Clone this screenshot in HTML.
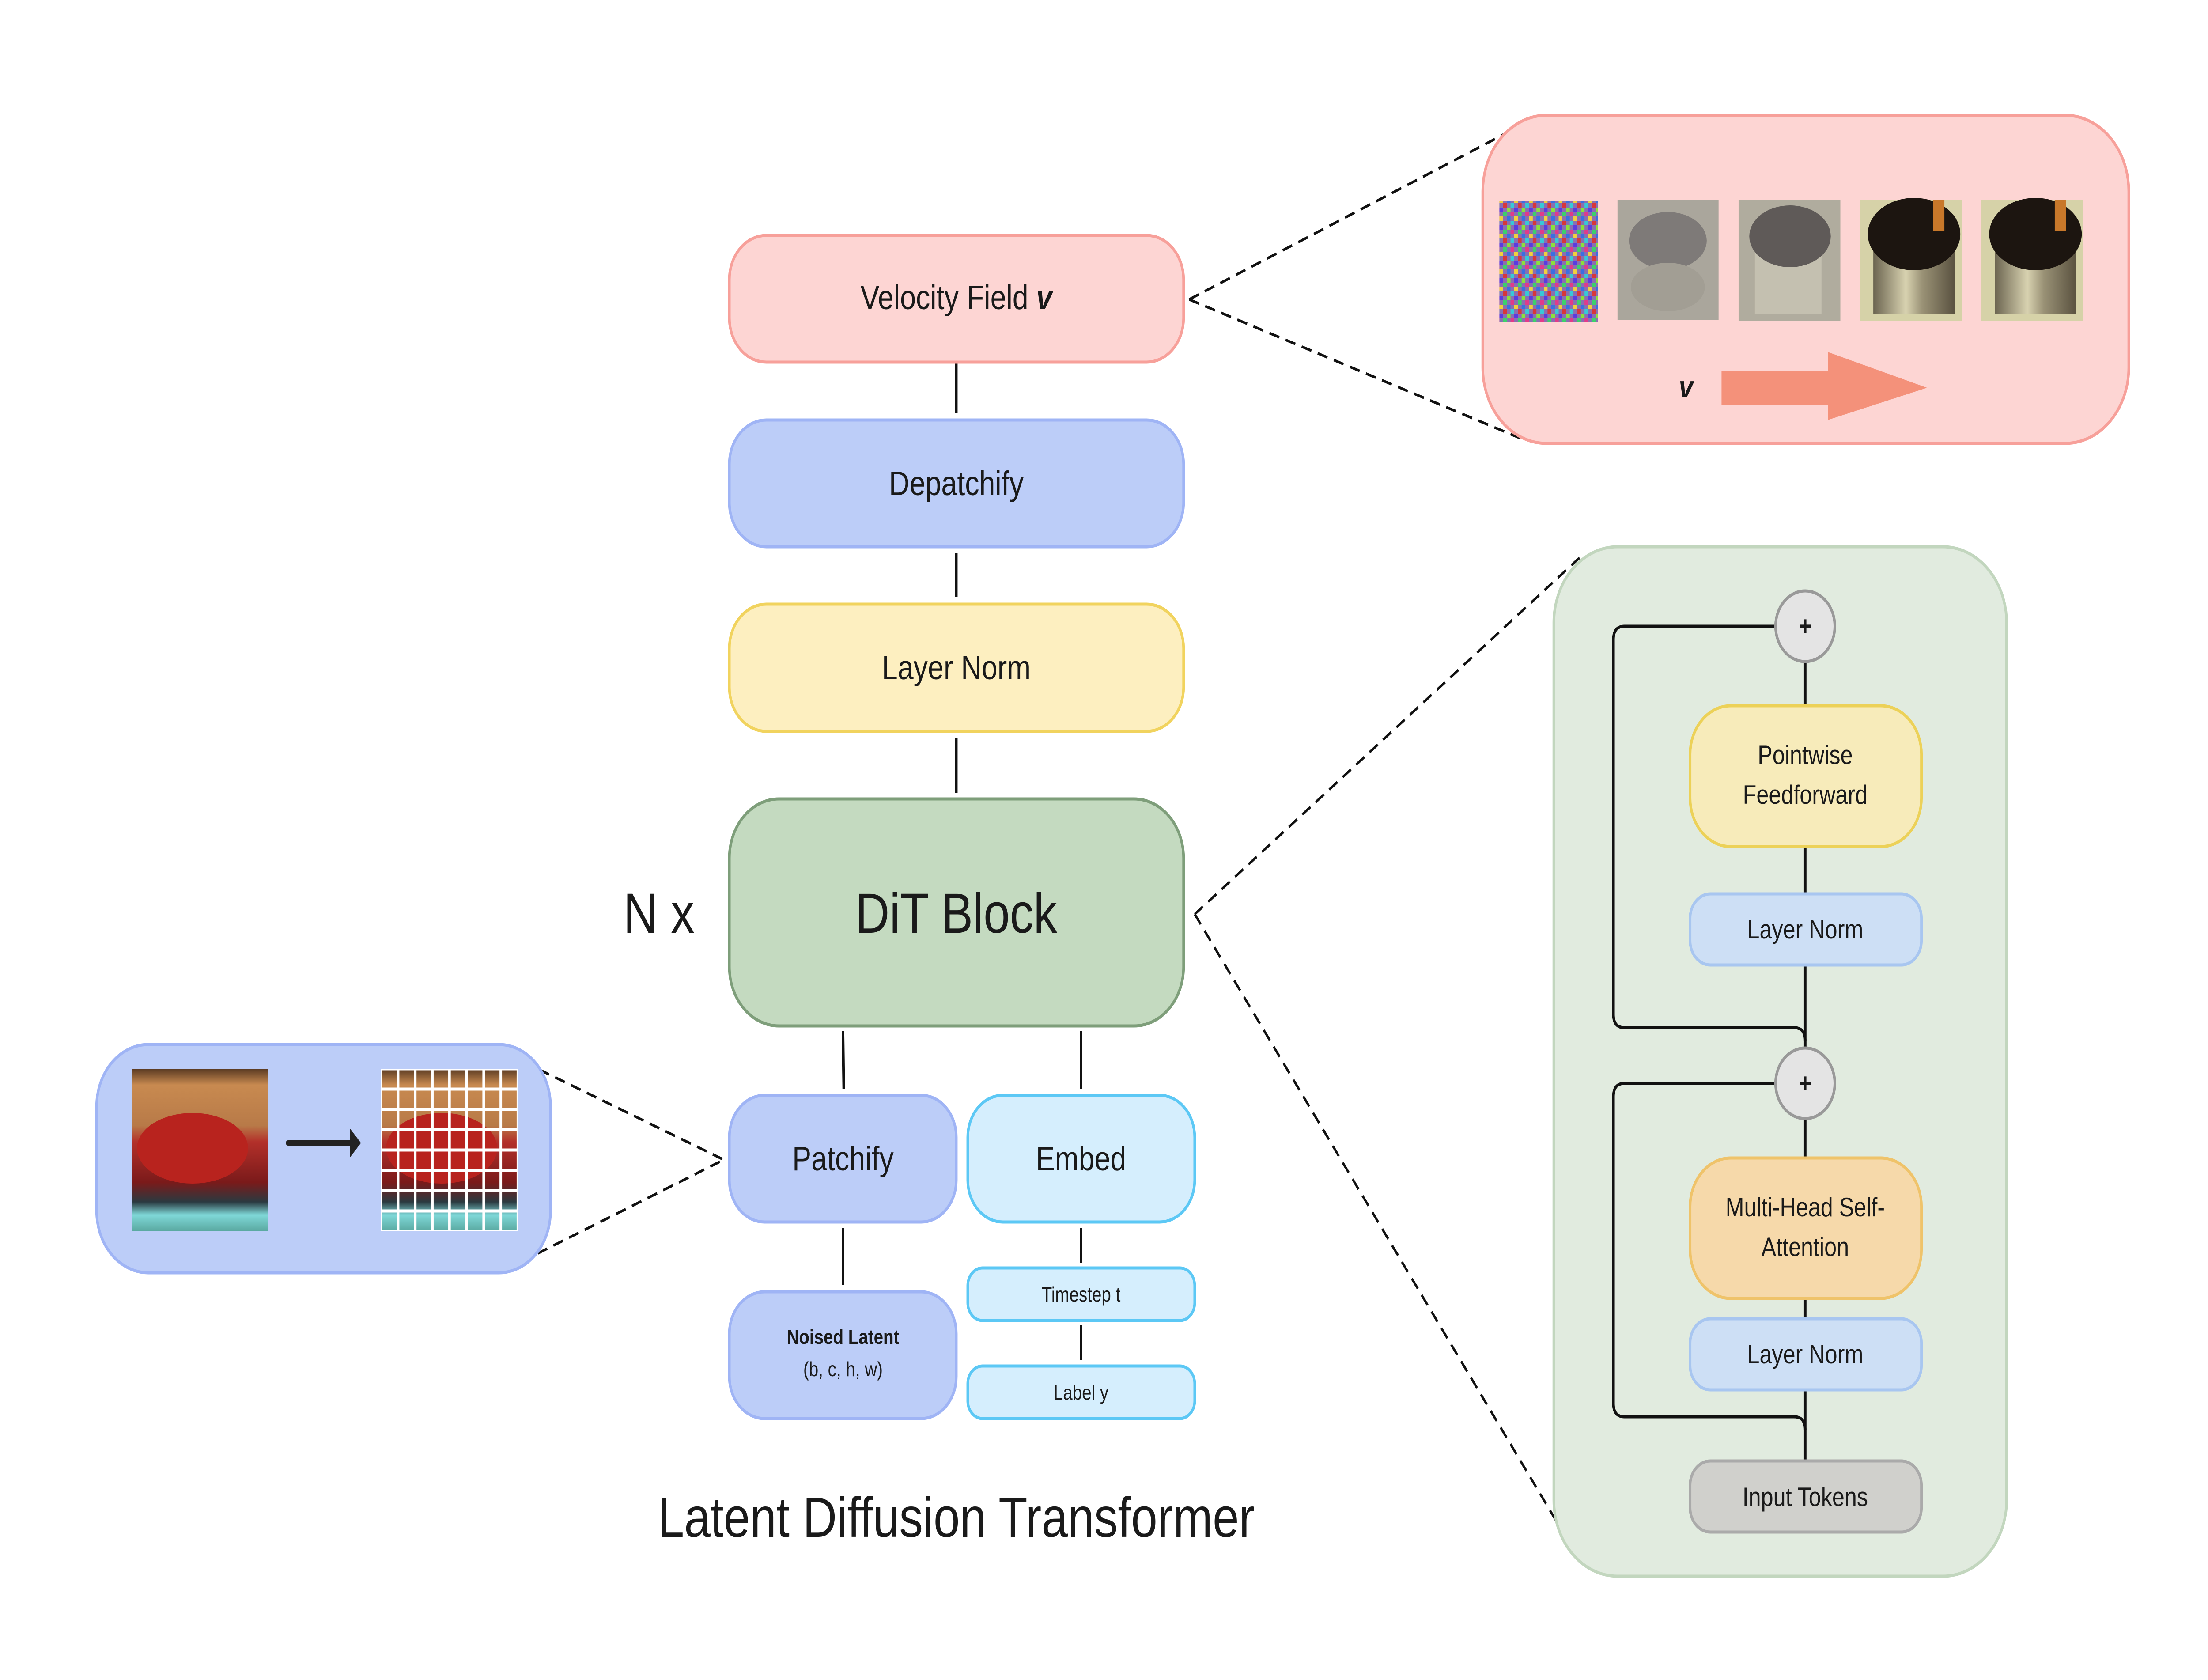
<!DOCTYPE html>
<html><head><meta charset="utf-8"><style>html,body{margin:0;padding:0;background:#fff;width:100%;height:100%;overflow:hidden}svg{display:block;width:100vw;height:100vh}text{font-family:"Liberation Sans",sans-serif;fill:#1a1a1a}</style></head>
<body>
<svg viewBox="0 0 5964 3804" preserveAspectRatio="none" xmlns="http://www.w3.org/2000/svg">
<defs>
<pattern id="noise" width="40" height="40" patternUnits="userSpaceOnUse">
<rect width="40" height="40" fill="#8a6fb0"/>
<rect x="0" y="0" width="10" height="10" fill="#e23a8a"/><rect x="20" y="0" width="10" height="10" fill="#3bd16b"/><rect x="10" y="10" width="10" height="10" fill="#f2d13a"/><rect x="30" y="10" width="10" height="10" fill="#3a6fe2"/><rect x="0" y="20" width="10" height="10" fill="#36c9d8"/><rect x="20" y="20" width="10" height="10" fill="#d8363a"/><rect x="10" y="30" width="10" height="10" fill="#5a3ae2"/><rect x="30" y="30" width="10" height="10" fill="#8ae23a"/>
</pattern>
<pattern id="grid" x="1029" y="2420" width="46.25" height="46" patternUnits="userSpaceOnUse"><rect width="46.25" height="46" fill="none" stroke="#fff" stroke-width="7"/></pattern>
<linearGradient id="steel" x1="0" y1="0" x2="1" y2="0"><stop offset="0" stop-color="#6b6450"/><stop offset="0.4" stop-color="#d8d2b0"/><stop offset="0.6" stop-color="#9a9276"/><stop offset="1" stop-color="#5a5240"/></linearGradient>
<linearGradient id="car" x1="0" y1="0" x2="0" y2="1"><stop offset="0" stop-color="#5a3a22"/><stop offset="0.1" stop-color="#c88a50"/><stop offset="0.35" stop-color="#b87a48"/><stop offset="0.45" stop-color="#b3302a"/><stop offset="0.7" stop-color="#7a1a1a"/><stop offset="0.82" stop-color="#2a3a40"/><stop offset="0.9" stop-color="#7fd8d8"/><stop offset="1" stop-color="#5aa8a0"/></linearGradient>
</defs>
<g stroke="#111" stroke-width="7" fill="none">
<line x1="2583" y1="820" x2="2583" y2="935"/>
<line x1="2583" y1="1252" x2="2583" y2="1352"/>
<line x1="2583" y1="1670" x2="2583" y2="1795"/>
<line x1="2277" y1="2335" x2="2279" y2="2465"/>
<line x1="2920" y1="2335" x2="2920" y2="2465"/>
<line x1="2277" y1="2780" x2="2277" y2="2910"/>
<line x1="2920" y1="2780" x2="2920" y2="2860"/>
<line x1="2920" y1="3000" x2="2920" y2="3080"/>
</g>
<g stroke="#111" stroke-width="6" fill="none" stroke-dasharray="28 18">
<line x1="3212" y1="678" x2="4101" y2="287"/><line x1="3212" y1="678" x2="4120" y2="997"/>
<line x1="3227" y1="2070" x2="4274" y2="1257"/><line x1="3227" y1="2070" x2="4262" y2="3526"/>
<line x1="1457" y1="2422" x2="1955" y2="2626"/><line x1="1410" y1="2856" x2="1955" y2="2626"/>
</g>
<g stroke-width="7">
<rect x="1970" y="533" width="1227" height="287" rx="100" fill="#fdd5d3" stroke="#f7a09a"/>
<rect x="1970" y="951" width="1227" height="287" rx="100" fill="#bccdf8" stroke="#9fb4f5"/>
<rect x="1970" y="1368" width="1227" height="288" rx="100" fill="#fdefc0" stroke="#f1d35e"/>
<rect x="1970" y="1809" width="1227" height="514" rx="134" fill="#c4dac0" stroke="#7e9e7a"/>
<rect x="1970" y="2480" width="613" height="287" rx="95" fill="#bccdf8" stroke="#9fb4f5"/>
<rect x="2614" y="2480" width="613" height="287" rx="95" fill="#d5eefd" stroke="#5cc8f5"/>
<rect x="1970" y="2925" width="613" height="287" rx="95" fill="#bccdf8" stroke="#9fb4f5"/>
<rect x="2614" y="2871" width="613" height="119" rx="40" fill="#d5eefd" stroke="#5cc8f5"/>
<rect x="2614" y="3093" width="613" height="119" rx="40" fill="#d5eefd" stroke="#5cc8f5"/>
<rect x="4005" y="261" width="1745" height="743" rx="172" fill="#fdd5d3" stroke="#f7a09a"/>
<rect x="4197" y="1238" width="1223" height="2331" rx="172" fill="#e1ebdf" stroke="#c2d6be"/>
<rect x="261" y="2365" width="1226" height="517" rx="140" fill="#bccdf8" stroke="#9fb4f5"/>
</g>
<text x="2583" y="700" font-size="77" text-anchor="middle">Velocity Field <tspan font-weight="bold" font-style="italic">v</tspan></text>
<text x="2583" y="1121" font-size="77" text-anchor="middle">Depatchify</text>
<text x="2583" y="1538" font-size="77" text-anchor="middle">Layer Norm</text>
<text x="2583" y="2112" font-size="128" text-anchor="middle">DiT Block</text>
<text x="1780" y="2112" font-size="128" text-anchor="middle">N x</text>
<text x="2277" y="2650" font-size="77" text-anchor="middle">Patchify</text>
<text x="2920" y="2650" font-size="77" text-anchor="middle">Embed</text>
<text x="2277" y="3043" font-size="46" font-weight="bold" text-anchor="middle">Noised Latent</text>
<text x="2277" y="3116" font-size="46" text-anchor="middle">(b, c, h, w)</text>
<text x="2920" y="2947" font-size="46" text-anchor="middle">Timestep t</text>
<text x="2920" y="3169" font-size="46" text-anchor="middle">Label y</text>
<text x="2583" y="3480" font-size="128" text-anchor="middle">Latent Diffusion Transformer</text>
<!-- pink panel images -->
<rect x="4050" y="454" width="266" height="276" fill="url(#noise)"/>
<rect x="4369" y="452" width="273" height="273" fill="#aaa69c"/>
<ellipse cx="4505" cy="545" rx="105" ry="65" fill="#7e7a78"/><ellipse cx="4505" cy="650" rx="100" ry="55" fill="#a29e94"/>
<rect x="4696" y="452" width="275" height="274" fill="#b0ac9e"/>
<rect x="4740" y="560" width="180" height="150" fill="#c4c0b0"/>
<ellipse cx="4835" cy="535" rx="110" ry="70" fill="#5f5a58"/>
<rect x="5024" y="452" width="275" height="275" fill="#d6d2a8"/>
<rect x="5060" y="560" width="220" height="150" fill="url(#steel)"/>
<ellipse cx="5170" cy="530" rx="125" ry="82" fill="#1c1510"/>
<rect x="5222" y="452" width="30" height="70" fill="#c8782a"/>
<rect x="5352" y="452" width="275" height="275" fill="#d6d2a8"/>
<rect x="5388" y="560" width="220" height="150" fill="url(#steel)"/>
<ellipse cx="5498" cy="530" rx="125" ry="82" fill="#1c1510"/>
<rect x="5550" y="452" width="30" height="70" fill="#c8782a"/>
<text x="4554" y="900" font-size="70" font-weight="bold" font-style="italic" text-anchor="middle">v</text>
<polygon points="4650,840 4937,840 4937,797 5205,878 4937,951 4937,916 4650,916" fill="#f4917a"/>
<!-- left panel images -->
<rect x="356" y="2420" width="368" height="368" fill="url(#car)"/>
<ellipse cx="520" cy="2600" rx="150" ry="80" fill="#b8231e"/>
<line x1="778" y1="2588" x2="950" y2="2588" stroke="#222" stroke-width="12" stroke-linecap="round"/>
<polygon points="975,2588 945,2555 945,2621" fill="#222"/>
<rect x="1029" y="2420" width="370" height="368" fill="url(#car)"/>
<ellipse cx="1193" cy="2600" rx="150" ry="80" fill="#b8231e"/>
<rect x="1029" y="2420" width="370" height="368" fill="url(#grid)"/>
<!-- green panel internals -->
<g stroke="#111" stroke-width="7" fill="none">
<line x1="4876" y1="1498" x2="4876" y2="1598"/>
<line x1="4876" y1="1917" x2="4876" y2="2024"/>
<line x1="4876" y1="2185" x2="4876" y2="2373"/>
<line x1="4876" y1="2533" x2="4876" y2="2622"/>
<line x1="4876" y1="2940" x2="4876" y2="2986"/>
<line x1="4876" y1="3147" x2="4876" y2="3308"/>
<path d="M4796,1418 H4388 Q4358,1418 4358,1448 V2297 Q4358,2327 4388,2327 H4846 Q4876,2327 4876,2357"/>
<path d="M4796,2453 H4388 Q4358,2453 4358,2483 V3178 Q4358,3208 4388,3208 H4846 Q4876,3208 4876,3238"/>
</g>
<g stroke-width="7">
<circle cx="4876" cy="1418" r="80" fill="#e4e4e4" stroke="#999"/>
<circle cx="4876" cy="2453" r="80" fill="#e4e4e4" stroke="#999"/>
<rect x="4565" y="1598" width="625" height="319" rx="110" fill="#f7ebba" stroke="#ecd158"/>
<rect x="4565" y="2024" width="625" height="161" rx="55" fill="#cddff5" stroke="#a8c6f0"/>
<rect x="4565" y="2622" width="625" height="318" rx="110" fill="#f6d9aa" stroke="#efc36a"/>
<rect x="4565" y="2986" width="625" height="161" rx="55" fill="#cddff5" stroke="#a8c6f0"/>
<rect x="4565" y="3308" width="625" height="161" rx="55" fill="#d0d0cc" stroke="#aaa"/>
</g>
<text x="4876" y="1438" font-size="60" font-weight="bold" text-anchor="middle">+</text>
<text x="4876" y="2473" font-size="60" font-weight="bold" text-anchor="middle">+</text>
<text x="4876" y="1730" font-size="60" text-anchor="middle">Pointwise</text>
<text x="4876" y="1820" font-size="60" text-anchor="middle">Feedforward</text>
<text x="4876" y="2125" font-size="60" text-anchor="middle">Layer Norm</text>
<text x="4876" y="2754" font-size="60" text-anchor="middle">Multi-Head Self-</text>
<text x="4876" y="2844" font-size="60" text-anchor="middle">Attention</text>
<text x="4876" y="3087" font-size="60" text-anchor="middle">Layer Norm</text>
<text x="4876" y="3410" font-size="60" text-anchor="middle">Input Tokens</text>
</svg>
</body></html>
